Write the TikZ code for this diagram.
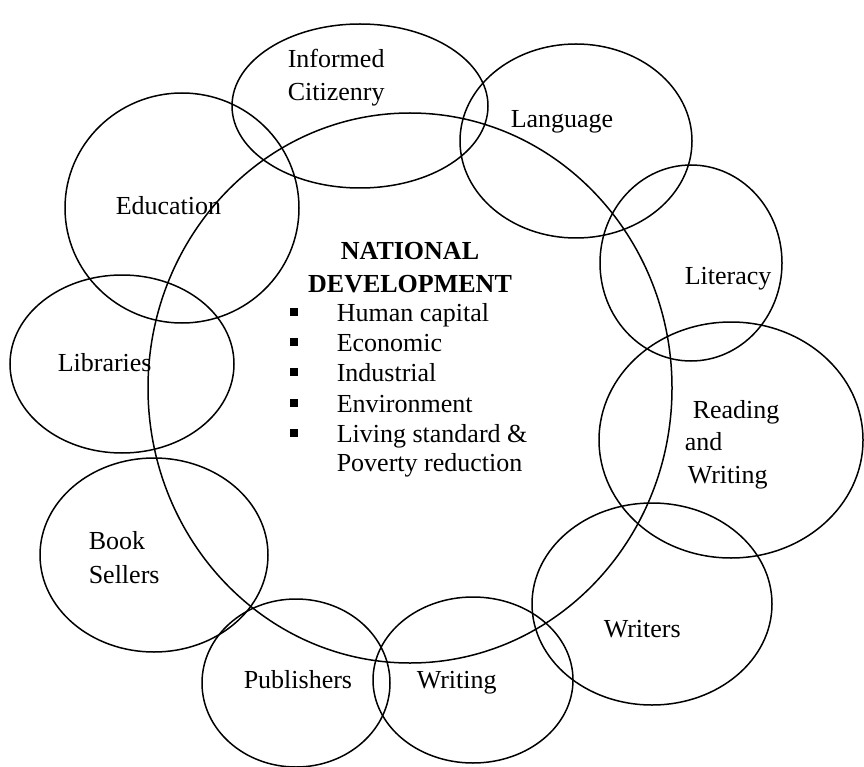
\documentclass[tikz,border=0pt]{standalone}
\usepackage{fontspec}
\setmainfont{Liberation Serif}

\tikzset{lbl/.style={anchor=base west,inner sep=0pt,font=\fontsize{26}{30}\selectfont}}

\begin{document}
\begin{tikzpicture}[x=1pt,y=-1pt,line width=1.5pt]
		\useasboundingbox (0,0) rectangle (864,767);
		
		% Ellipsen
		\draw (410,388) ellipse [x radius=262,y radius=275];
		\draw (360,106) ellipse [x radius=128,y radius=82];
		\draw (576,141) ellipse [x radius=116,y radius=97];
		\draw (182,208) ellipse [x radius=117,y radius=115];
		\draw (691,263) ellipse [x radius=91,y radius=98];
		\draw (122,364) ellipse [x radius=112,y radius=89];
		\draw (731,440) ellipse [x radius=132,y radius=118];
		\draw (154,555) ellipse [x radius=114,y radius=97];
		\draw (652,604) ellipse [x radius=120,y radius=101];
		\draw (296,683) ellipse [x radius=94,y radius=84];
		\draw (473,680) ellipse [x radius=100,y radius=83];
		
		% Beschriftungen
		\node[lbl] (inf) at (287,68) {Informed};
		\node[lbl] (cit) at (287,101) {Citizenry};
		\node[lbl] (lang) at (510,128) {Language};
		\node[lbl] (edu) at (115,215) {Education};
		\node[lbl] (lit) at (684,284) {Literacy};
		\node[lbl] (lib) at (57,371) {Libraries};
		\node[lbl] (rea) at (692,418) {Reading};
		\node[lbl] (and) at (684,450) {and};
		\node[lbl] (wri) at (687,483) {Writing};
		\node[lbl] (book) at (88,549) {Book};
		\node[lbl] (sell) at (88,583) {Sellers};
		\node[lbl] (wrs) at (603,637) {Writers};
		\node[lbl] (pub) at (243,688) {Publishers};
		\node[lbl] (wtg) at (416,688) {Writing};
		
		% Mitte
		\node[lbl,anchor=base,font=\fontsize{26}{30}\selectfont\bfseries] (nat) at (410,260) {NATIONAL};
		\node[lbl,anchor=base,font=\fontsize{26}{30}\selectfont\bfseries] (dev) at (410,292) {DEVELOPMENT};
		\foreach \y/\t [count=\i] in {321/Human capital,351/Economic,381/Industrial,412/Environment,442/Living standard \&}{
			\fill (290,\y) ++(0,-13) rectangle ++(8,8);
			\node[lbl] (pt\i) at (336,\y) {\t};
		}
		\node[lbl] (pov) at (336,471) {Poverty reduction};
	\end{tikzpicture}
\end{document}
